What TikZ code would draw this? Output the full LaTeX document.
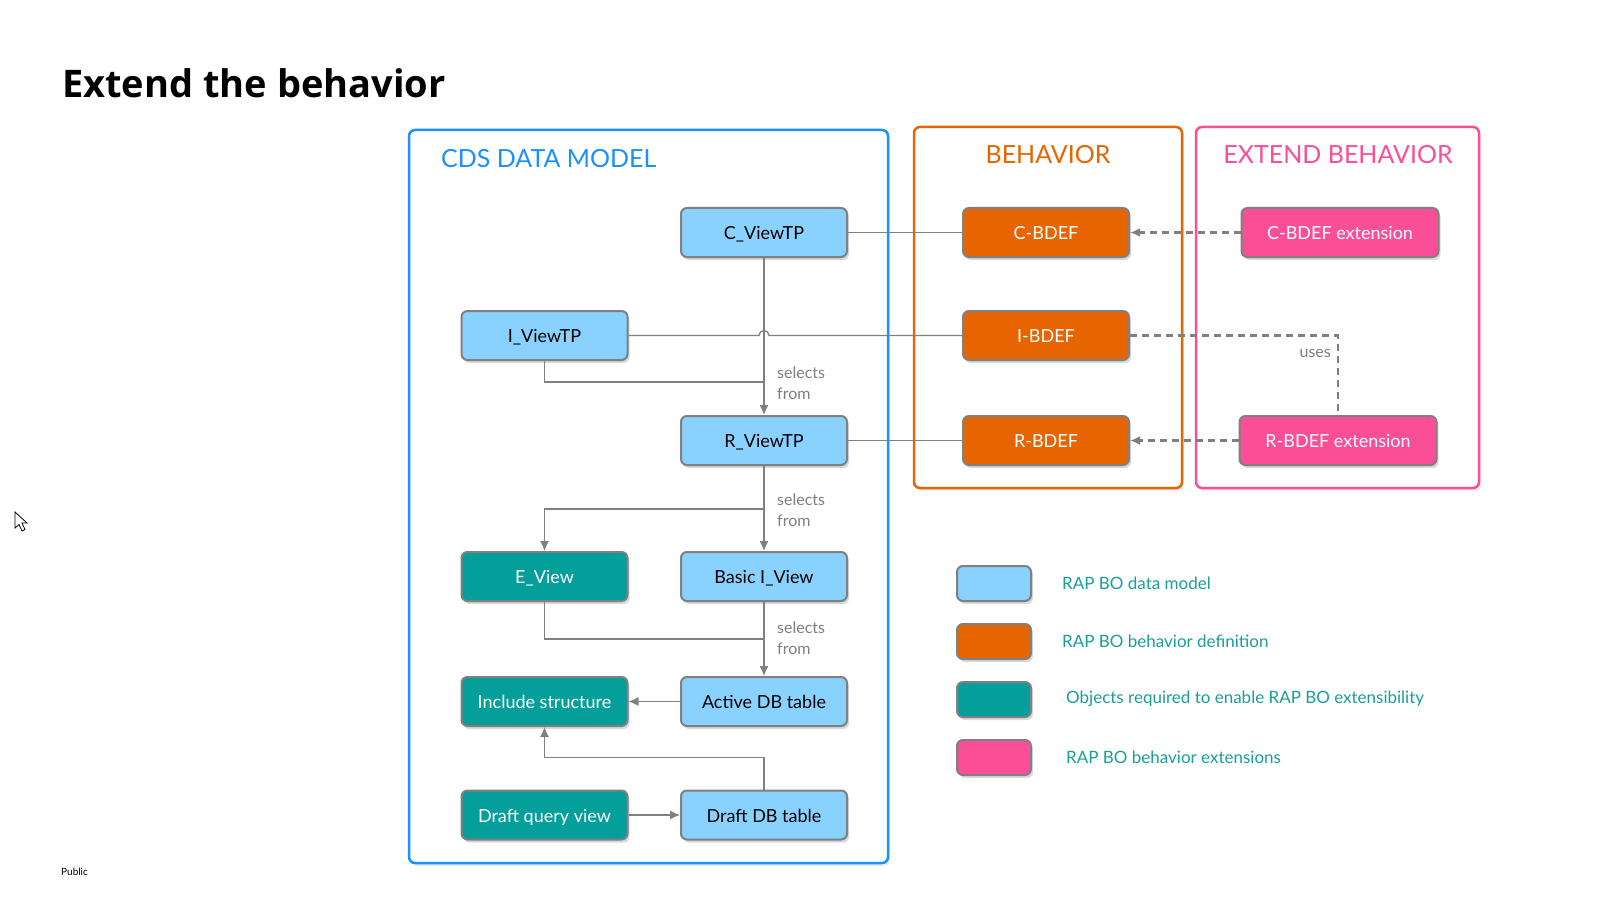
\documentclass[tikz,border=0pt]{standalone}
\usepackage{fontspec}
\setmainfont{Lato}
\newfontfamily\titlefont{Open Sans}
\usetikzlibrary{arrows.meta,shadows}

\definecolor{dmblue}{HTML}{89D1FF}
\definecolor{bdeforange}{HTML}{E76500}
\definecolor{reqteal}{HTML}{049F9A}
\definecolor{extpink}{HTML}{FA4F96}
\definecolor{frameblue}{HTML}{1B90FF}
\definecolor{linegray}{HTML}{808080}
\definecolor{legteal}{HTML}{1A9E96}

\tikzset{
    obj/.style={draw=linegray, line width=2pt, rounded corners=6pt,
        minimum width=166pt, minimum height=49pt, inner sep=0pt,
        text height=15pt, text depth=1pt,
        font=\fontsize{18}{21}\selectfont,
        drop shadow={shadow xshift=2pt, shadow yshift=-3pt, opacity=0.3}},
    model/.style={obj, fill=dmblue, text=black},
    bdef/.style={obj, fill=bdeforange, text=white},
    req/.style={obj, fill=reqteal, text=white},
    ext/.style={obj, fill=extpink, text=white, minimum width=197pt},
    panel/.style={line width=2.5pt, rounded corners=6pt, fill=white,
        drop shadow={shadow xshift=2pt, shadow yshift=-3pt, opacity=0.15}},
    link/.style={draw=linegray, line width=1.3pt},
    arr/.style={link, -{Latex[length=10pt,width=9pt]}},
    dlink/.style={draw=linegray, line width=2.2pt, dash pattern=on 7pt off 5pt},
    note/.style={text=linegray, font=\fontsize{16}{21}\selectfont, align=left, inner sep=0pt},
    legtext/.style={text=legteal, font=\fontsize{17}{20}\selectfont, anchor=west, inner sep=0pt},
    head/.style={font=\fontsize{25}{30}\selectfont, inner sep=0pt}
}

\begin{document}
\begin{tikzpicture}[x=1pt,y=-1pt]
    \useasboundingbox (0,0) rectangle (1617,904);

    % title and footer
    \node[anchor=base west, font=\titlefont\bfseries\fontsize{38}{42}\selectfont, inner sep=0pt] (title) at (62,98) {Extend the behavior};
    \node[anchor=west, font=\fontsize{10}{12}\selectfont, inner sep=0pt] (public) at (61,872) {Public};
    \draw[fill=white, line width=0.8pt] (15,512) -- (15,528) -- (19,524.5) -- (22,531) -- (25,529.5) -- (22,523) -- (27,523) -- cycle;

    % panels
    \draw[panel, draw=frameblue] (409,130) rectangle (888,863);
    \draw[panel, draw=bdeforange] (914,127) rectangle (1182,488);
    \draw[panel, draw=extpink] (1196,127) rectangle (1479,488);
    \node[head, anchor=base west, text=frameblue] (cdshead) at (441,168) {CDS DATA MODEL};
    \node[head, anchor=base, text=bdeforange] (bdefhead) at (1048,164) {BEHAVIOR};
    \node[head, anchor=base, text=extpink] (exthead) at (1338,164) {EXTEND BEHAVIOR};

    % data model
    \node[model] (cview) at (764,232.5) {C\_ViewTP};
    \node[model] (iview) at (544.5,335.5) {I\_ViewTP};
    \node[model] (rview) at (764,440.5) {R\_ViewTP};
    \node[req] (eview) at (544.5,576.5) {E\_View};
    \node[model] (basic) at (764,576.5) {Basic I\_View};
    \node[req] (incl) at (544.5,701.5) {Include structure};
    \node[model] (adb) at (764,701.5) {Active DB table};
    \node[req] (dqv) at (544.5,815) {Draft query view};
    \node[model] (ddb) at (764,815) {Draft DB table};

    % behavior
    \node[bdef] (cbdef) at (1046,232.5) {C-BDEF};
    \node[bdef] (ibdef) at (1046,335.5) {I-BDEF};
    \node[bdef] (rbdef) at (1046,440.5) {R-BDEF};
    \node[ext] (cext) at (1340,232.5) {C-BDEF extension};
    \node[ext] (rext) at (1338,440.5) {R-BDEF extension};

    % selects from
    \coordinate (j1) at (764,382);
    \coordinate (j2) at (764,509);
    \coordinate (j3) at (764,639);
    \coordinate (hop) at (iview.east -| cview.south);
    \draw[arr] (cview.south) -- (rview.north);
    \draw[link] (iview.south) |- (j1);
    \draw[arr] (rview.south) -- (basic.north);
    \draw[arr] (j2) -| (eview.north);
    \draw[link] (eview.south) |- (j3);
    \draw[arr] (basic.south) -- (adb.north);
    \draw[arr] (adb.west) -- (incl.east);
    \draw[arr] (ddb.north) -- ++(0,-32) -| (incl.south);
    \draw[arr] (dqv.east) -- (ddb.west);
    \node[note, anchor=west] (sel1) at (777,383) {selects\\from};
    \node[note, anchor=west] (sel2) at (777,510) {selects\\from};
    \node[note, anchor=west] (sel3) at (777,638) {selects\\from};

    % views to behavior
    \draw[link] (cview.east) -- (cbdef.west);
    \draw[link] (iview.east) -- ([xshift=-5pt]hop) arc[start angle=180, end angle=0, radius=5pt] -- (ibdef.west);
    \draw[link] (rview.east) -- (rbdef.west);

    % extensions
    \draw[dlink, -{Latex[length=10pt,width=9pt]}] (cext.west) -- (cbdef.east);
    \draw[dlink, -{Latex[length=10pt,width=9pt]}] (rext.west) -- (rbdef.east);
    \draw[dlink] (ibdef.east) -| (rext.north);
    \node[note, anchor=east] (uses) at (1331,353) {uses};

    % legend
    \node[model, minimum width=74pt, minimum height=35pt] (legmodel) at (994,583.5) {};
    \node[bdef, minimum width=74pt, minimum height=35pt] (legbdef) at (994,641.5) {};
    \node[req, minimum width=74pt, minimum height=35pt] (legreq) at (994,699.5) {};
    \node[ext, minimum width=74pt, minimum height=35pt] (legext) at (994,757.5) {};
    \node[legtext] (ltmodel) at (1062,583) {RAP BO data model};
    \node[legtext] (ltbdef) at (1062,641) {RAP BO behavior definition};
    \node[legtext] (ltreq) at (1066,699) {Objects required to enable RAP BO extensibility};
    \node[legtext] (ltext) at (1066,757) {RAP BO behavior extensions};
\end{tikzpicture}
\end{document}
